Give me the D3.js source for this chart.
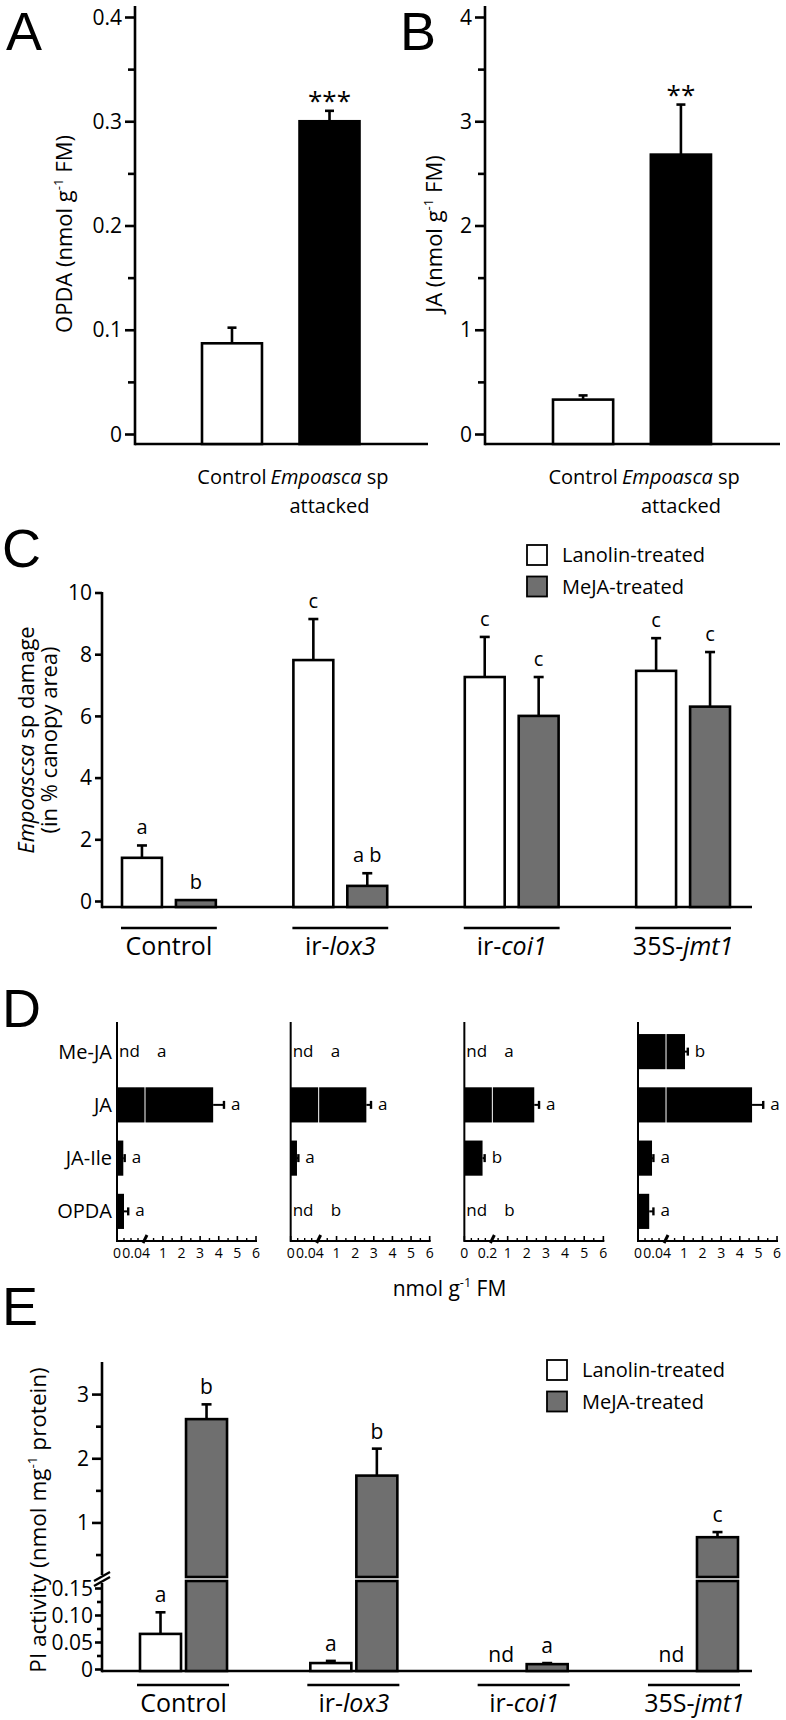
<!DOCTYPE html>
<html><head><meta charset="utf-8">
<script src="https://cdn.jsdelivr.net/npm/d3@7"></script>
<style>
body{margin:0;background:#fff;}
svg text{font-family:"Open Sans","Noto Sans",sans-serif;fill:#000;}
svg text.plabel{font-family:"Liberation Sans",Arial,sans-serif;}
</style></head><body>
<svg id="fig" width="786" height="1720"></svg>
<script>
// ---------------- DATA ----------------
const abCategories = ["Control", "Empoasca sp attacked"];
const opdaMeans = [0.087, 0.300];
const opdaErrors = [0.015, 0.010];
const opdaStars = ["", "***"];
const opdaTicks = [0, 0.1, 0.2, 0.3, 0.4];
const jaMeans = [0.33, 2.68];
const jaErrors = [0.04, 0.48];
const jaStars = ["", "**"];
const jaTicks = [0, 1, 2, 3, 4];

const genotypes = ["Control", "ir-lox3", "ir-coi1", "35S-jmt1"];
const treatments = ["Lanolin-treated", "MeJA-treated"];
const damageLanolin = [1.40, 7.81, 7.26, 7.46];
const damageLanolinErr = [0.40, 1.33, 1.30, 1.06];
const damageMeja = [0.03, 0.49, 6.00, 6.30];
const damageMejaErr = [0.00, 0.41, 1.26, 1.77];
const damageLettersLanolin = ["a", "c", "c", "c"];
const damageLettersMeja = ["b", "a b", "c", "c"];
const damageTicks = [0, 2, 4, 6, 8, 10];

const compounds = ["Me-JA", "JA", "JA-Ile", "OPDA"];
const hormoneBreaks = [0.04, 0.04, 0.2, 0.04];
const hormoneTicks = [1, 2, 3, 4, 5, 6];
const hormoneControl = [null, 3.70, 0.009, 0.010];
const hormoneControlErr = [0, 0.58, 0.002, 0.006];
const hormoneControlLetters = ["a", "a", "a", "a"];
const hormoneLox3 = [null, 2.60, 0.009, null];
const hormoneLox3Err = [0, 0.25, 0.002, 0];
const hormoneLox3Letters = ["a", "a", "a", "b"];
const hormoneCoi1 = [null, 2.39, 0.13, null];
const hormoneCoi1Err = [0, 0.25, 0.015, 0];
const hormoneCoi1Letters = ["a", "a", "b", "b"];
const hormoneJmt1 = [1.06, 4.66, 0.020, 0.016];
const hormoneJmt1Err = [0.15, 0.60, 0.002, 0.006];
const hormoneJmt1Letters = ["b", "a", "a", "a"];

const piLanolin = [0.065, 0.011, null, null];
const piLanolinErr = [0.040, 0.004, 0, 0];
const piMeja = [2.61, 1.73, 0.009, 0.77];
const piMejaErr = [0.23, 0.42, 0.002, 0.08];
const piLettersLanolin = ["a", "a", "nd", "nd"];
const piLettersMeja = ["b", "b", "a", "c"];
const piUpperTicks = [1, 2, 3];
const piLowerTicks = [0, 0.05, 0.10, 0.15];

// ---------------- HELPERS ----------------
const svg = d3.select("#fig");
const GRAY = "#6f6f6f";
const SW = 2.6;

function rich(parent, x, y, segs, size, anchor) {
  const t = parent.append("text").attr("x", x).attr("y", y)
    .attr("font-size", size).attr("text-anchor", anchor || "start");
  let up = false;
  segs.forEach(s => {
    const sp = t.append("tspan").text(s.t);
    if (s.i) sp.attr("font-style", "italic");
    if (s.sup) { sp.attr("font-size", size * 0.6).attr("dy", -size * 0.42); up = true; }
    else if (up) { sp.attr("dy", size * 0.42); up = false; }
  });
  return t;
}
function genoSegs(name) {
  const i = name.indexOf("-");
  if (i < 0) return [{t: name}];
  return [{t: name.slice(0, i + 1)}, {t: name.slice(i + 1), i: true}];
}
function line(parent, x1, y1, x2, y2, w) {
  return parent.append("line").attr("x1", x1).attr("y1", y1).attr("x2", x2).attr("y2", y2)
    .attr("stroke", "#000").attr("stroke-width", w || SW);
}
function styleAxis(g, size) {
  g.attr("font-family", null).attr("font-size", null);
  g.select(".domain").remove();
  g.selectAll(".tick line").attr("stroke", "#000").attr("stroke-width", SW);
  g.selectAll(".tick text").attr("font-size", size).attr("fill", "#000");
}
function errBar(parent, x, y0, y1, cap) {
  line(parent, x, y0, x, y1);
  line(parent, x - cap, y1, x + cap, y1);
}
function vTitle(parent, x, y, segs, size) {
  const t = rich(parent, 0, 0, segs, size, "middle");
  t.attr("transform", `translate(${x},${y}) rotate(-90)`);
  return t;
}
function panelLetter(x, y, s) {
  svg.append("text").attr("class", "plabel").attr("x", x).attr("y", y).attr("font-size", 54).text(s);
}

// ---------------- PANELS A & B ----------------
function panelAB(cfg) {
  const g = svg.append("g");
  const base = 444;
  const y = d3.scaleLinear().domain([0, cfg.ticks[cfg.ticks.length - 1]]).range([434, 17]);
  const x = d3.scaleBand().domain(abCategories).range(cfg.band).paddingInner(0.385);
  const step = cfg.ticks[1] - cfg.ticks[0];
  const minor = cfg.ticks.slice(0, -1).map(t => t + step / 2);
  const gm = g.append("g").attr("transform", `translate(${cfg.axisX},0)`)
    .call(d3.axisLeft(y).tickValues(minor).tickSize(7).tickFormat(""));
  styleAxis(gm, 21);
  const ga = g.append("g").attr("transform", `translate(${cfg.axisX},0)`)
    .call(d3.axisLeft(y).tickValues(cfg.ticks).tickSize(10).tickPadding(3)
      .tickFormat(d => d === 0 ? "0" : cfg.fmt(d)));
  styleAxis(ga, 21);
  ga.selectAll(".tick text").attr("dy", "0.34em");
  line(g, cfg.axisX, 6, cfg.axisX, base + 1.3);
  line(g, cfg.axisX, base, cfg.axisEnd, base);
  abCategories.forEach((c, i) => {
    const v = cfg.means[i], e = cfg.errs[i];
    const cx = x(c) + x.bandwidth() / 2;
    errBar(g, cx, y(v), y(v + e), 4.5);
    g.append("rect").attr("x", x(c)).attr("y", y(v)).attr("width", x.bandwidth())
      .attr("height", base - y(v)).attr("fill", i === 0 ? "#fff" : "#000")
      .attr("stroke", "#000").attr("stroke-width", SW);
    if (cfg.stars[i]) g.append("text").attr("x", cx).attr("y", y(v + e) - 1)
      .attr("text-anchor", "middle").attr("font-size", 26).text(cfg.stars[i]);
    const words = c.split(" ");
    if (words.length === 1) {
      rich(g, cx, 484, [{t: c}], 20, "middle");
    } else {
      rich(g, cx, 484, [{t: words[0], i: true}, {t: " " + words[1]}], 20, "middle");
      rich(g, cx, 513, [{t: words.slice(2).join(" ")}], 20, "middle");
    }
  });
  vTitle(g, cfg.titleX, 234, cfg.title, 22);
  panelLetter(cfg.letterX, 50, cfg.letter);
}
panelAB({axisX: 135, axisEnd: 428, band: [202, 359.5], means: opdaMeans, errs: opdaErrors,
  stars: opdaStars, ticks: opdaTicks, fmt: d3.format(".1f"), titleX: 72,
  title: [{t: "OPDA (nmol g"}, {t: "-1", sup: true}, {t: " FM)"}], letter: "A", letterX: 6});
panelAB({axisX: 485, axisEnd: 780, band: [553, 711], means: jaMeans, errs: jaErrors,
  stars: jaStars, ticks: jaTicks, fmt: d3.format("d"), titleX: 442,
  title: [{t: "JA (nmol g"}, {t: "-1", sup: true}, {t: " FM)"}], letter: "B", letterX: 400});

// ---------------- LEGEND ----------------
function legend(x, y) {
  const g = svg.append("g");
  treatments.forEach((t, i) => {
    g.append("rect").attr("x", x).attr("y", y + i * 31.5).attr("width", 20).attr("height", 20)
      .attr("fill", i === 0 ? "#fff" : GRAY).attr("stroke", "#000").attr("stroke-width", 1.8);
    g.append("text").attr("x", x + 35).attr("y", y + i * 31.5 + 17).attr("font-size", 20).text(t);
  });
}

// ---------------- PANEL C ----------------
(function () {
  const g = svg.append("g");
  const base = 907, axisX = 102;
  const y = d3.scaleLinear().domain([0, 10]).range([901, 592.5]);
  const gx = d3.scaleBand().domain(genotypes).range([122, 730]).paddingInner(0.4525);
  const tx = d3.scaleBand().domain(treatments).range([0, gx.bandwidth()]).paddingInner(0.26);
  const ga = g.append("g").attr("transform", `translate(${axisX},0)`)
    .call(d3.axisLeft(y).tickValues(damageTicks).tickSize(7).tickPadding(3));
  styleAxis(ga, 21);
  ga.selectAll(".tick text").attr("dy", "0.34em");
  line(g, axisX, 592, axisX, base + 1.3);
  line(g, axisX, base, 752, base);
  const sets = [
    {vals: damageLanolin, errs: damageLanolinErr, lets: damageLettersLanolin, fill: "#fff"},
    {vals: damageMeja, errs: damageMejaErr, lets: damageLettersMeja, fill: GRAY}];
  genotypes.forEach((gen, gi) => {
    sets.forEach((s, si) => {
      const v = s.vals[gi], e = s.errs[gi];
      const bx = gx(gen) + tx(treatments[si]);
      const cx = bx + tx.bandwidth() / 2;
      if (e > 0) errBar(g, cx, y(v), y(v + e), 5);
      g.append("rect").attr("x", bx).attr("y", y(v)).attr("width", tx.bandwidth())
        .attr("height", base - y(v)).attr("fill", s.fill).attr("stroke", "#000").attr("stroke-width", SW);
      g.append("text").attr("x", cx).attr("y", y(v + e) - 11).attr("text-anchor", "middle")
        .attr("font-size", 20).text(s.lets[gi]);
    });
    line(g, gx(gen) - 1, 928, gx(gen) + gx.bandwidth() + 1, 928);
    rich(g, gx(gen) + gx.bandwidth() / 2, 955, genoSegs(gen), 25, "middle");
  });
  vTitle(g, 34, 740, [{t: "Empoascsa", i: true}, {t: " sp damage"}], 22);
  vTitle(g, 57, 740, [{t: "(in % canopy area)"}], 22);
  panelLetter(2, 567, "C");
  legend(527, 545);
})();

// ---------------- PANEL D ----------------
(function () {
  const g = svg.append("g");
  const axisY = 1241, top = 1022;
  const sub = d3.scaleBand().domain(genotypes).range([117, 778]).paddingInner(0.194);
  const rows = d3.scaleBand().domain(compounds).range([1025, 1238]).paddingInner(0.34).paddingOuter(0.17);
  const sets = [
    {vals: hormoneControl, errs: hormoneControlErr, lets: hormoneControlLetters},
    {vals: hormoneLox3, errs: hormoneLox3Err, lets: hormoneLox3Letters},
    {vals: hormoneCoi1, errs: hormoneCoi1Err, lets: hormoneCoi1Letters},
    {vals: hormoneJmt1, errs: hormoneJmt1Err, lets: hormoneJmt1Letters}];
  genotypes.forEach((gen, gi) => {
    const x0 = sub(gen), brk = hormoneBreaks[gi], s = sets[gi];
    const sx = d3.scaleLinear().domain([0, brk, 6]).range([x0, x0 + 28, x0 + 139]);
    compounds.forEach((c, ci) => {
      const v = s.vals[ci], e = s.errs[ci];
      const yc = rows(c) + rows.bandwidth() / 2;
      if (v === null) {
        g.append("text").attr("x", x0 + 2).attr("y", yc + 5).attr("font-size", 17).text("nd");
        g.append("text").attr("x", x0 + 40).attr("y", yc + 5).attr("font-size", 17).text(s.lets[ci]);
        return;
      }
      if (e > 0) {
        line(g, sx(v), yc, sx(v + e), yc, 2);
        line(g, sx(v + e), yc - 4, sx(v + e), yc + 4, 2.4);
      }
      if (v <= brk) {
        g.append("rect").attr("x", x0).attr("y", rows(c)).attr("width", sx(v) - x0)
          .attr("height", rows.bandwidth()).attr("fill", "#000");
      } else {
        g.append("rect").attr("x", x0).attr("y", rows(c)).attr("width", sx(brk) - x0 - 0.5)
          .attr("height", rows.bandwidth()).attr("fill", "#000");
        g.append("rect").attr("x", sx(brk) + 0.5).attr("y", rows(c)).attr("width", sx(v) - sx(brk) - 0.5)
          .attr("height", rows.bandwidth()).attr("fill", "#000");
      }
      g.append("text").attr("x", sx(v + e) + 7).attr("y", yc + 5).attr("font-size", 17).text(s.lets[ci]);
    });
    // axes
    line(g, x0, top, x0, axisY + 1, 2);
    line(g, x0, axisY, x0 + 140, axisY, 2);
    const majors = [0].concat(hormoneTicks);
    const minors = d3.range(1, 4).map(i => brk * i / 4).concat(d3.range(0.5, 6, 1));
    majors.forEach(t => line(g, sx(t), axisY, sx(t), axisY - 5, 1.6));
    minors.forEach(t => line(g, sx(t), axisY, sx(t), axisY - 3, 1.4));
    line(g, sx(brk) - 2, axisY + 2, sx(brk) + 2, axisY - 6, 3);
    const ty = 1258;
    g.append("text").attr("x", sx(0)).attr("y", ty).attr("font-size", 14).attr("text-anchor", "middle").text("0");
    g.append("text").attr("x", sx(brk) + 5).attr("y", ty).attr("font-size", 14).attr("text-anchor", "end").text(String(brk));
    g.append("text").attr("x", Math.max(sx(1) - 4, sx(brk) + 6)).attr("y", ty).attr("font-size", 14).text("1");
    hormoneTicks.slice(1).forEach(t => g.append("text").attr("x", sx(t)).attr("y", ty)
      .attr("font-size", 14).attr("text-anchor", "middle").text(String(t)));
    if (gi === 0) {
      compounds.forEach(c => g.append("text").attr("x", x0 - 5).attr("y", rows(c) + rows.bandwidth() / 2 + 7)
        .attr("font-size", 20).attr("text-anchor", "end").text(c));
    }
  });
  rich(g, (117 + 778) / 2 + 2, 1296, [{t: "nmol g"}, {t: "-1", sup: true}, {t: " FM"}], 21, "middle");
  panelLetter(2, 1027, "D");
})();

// ---------------- PANEL E ----------------
(function () {
  const g = svg.append("g");
  const base = 1671, axisX = 102;
  const yLow = d3.scaleLinear().domain([0, 0.15]).range([1669, 1588]);
  const yUp = d3.scaleLinear().domain([0.15, 3.5]).range([1577, 1362]);
  const yy = v => v <= 0.15 ? yLow(v) : yUp(v);
  const lowTop = yLow(0.15) - 7;
  const gx = d3.scaleBand().domain(genotypes).range([140, 738]).paddingInner(0.489);
  const tx = d3.scaleBand().domain(treatments).range([0, gx.bandwidth()]).paddingInner(0.109);
  // axes
  const gum = g.append("g").attr("transform", `translate(${axisX},0)`)
    .call(d3.axisLeft(yUp).tickValues([0.5, 1.5, 2.5]).tickSize(6).tickFormat(""));
  styleAxis(gum, 21);
  const gu = g.append("g").attr("transform", `translate(${axisX},0)`)
    .call(d3.axisLeft(yUp).tickValues(piUpperTicks).tickSize(10).tickPadding(3).tickFormat(d3.format("d")));
  styleAxis(gu, 21);
  gu.selectAll(".tick text").attr("dy", "0.34em");
  const glm = g.append("g").attr("transform", `translate(${axisX},0)`)
    .call(d3.axisLeft(yLow).tickValues([0.025, 0.075, 0.125]).tickSize(5).tickFormat(""));
  styleAxis(glm, 21);
  const gl = g.append("g").attr("transform", `translate(${axisX},0)`)
    .call(d3.axisLeft(yLow).tickValues(piLowerTicks).tickSize(7).tickPadding(2)
      .tickFormat(d => d === 0 ? "0" : d3.format(".2f")(d)));
  styleAxis(gl, 21);
  gl.selectAll(".tick text").attr("dy", "0.34em");
  line(g, axisX, 1362, axisX, yUp(0.15) - 2);
  line(g, axisX, lowTop + 2, axisX, base + 1.3);
  line(g, axisX - 8, lowTop - 0, axisX + 8, lowTop - 9, 2.4);
  line(g, axisX - 8, lowTop + 5, axisX + 8, lowTop - 4, 2.4);
  line(g, axisX, base, 752, base);
  const sets = [
    {vals: piLanolin, errs: piLanolinErr, lets: piLettersLanolin, fill: "#fff"},
    {vals: piMeja, errs: piMejaErr, lets: piLettersMeja, fill: GRAY}];
  genotypes.forEach((gen, gi) => {
    sets.forEach((s, si) => {
      const v = s.vals[gi], e = s.errs[gi];
      const bx = gx(gen) + tx(treatments[si]);
      const bw = tx.bandwidth();
      const cx = bx + bw / 2;
      if (v === null) {
        g.append("text").attr("x", cx).attr("y", yLow(0) - 7).attr("text-anchor", "middle")
          .attr("font-size", 21).text(s.lets[gi]);
        return;
      }
      if (e > 0) errBar(g, cx, yy(v), yy(v + e), 5);
      if (v <= 0.15) {
        g.append("rect").attr("x", bx).attr("y", yLow(v)).attr("width", bw).attr("height", base - yLow(v))
          .attr("fill", s.fill).attr("stroke", "#000").attr("stroke-width", SW);
      } else {
        g.append("rect").attr("x", bx).attr("y", lowTop).attr("width", bw).attr("height", base - lowTop)
          .attr("fill", s.fill).attr("stroke", "#000").attr("stroke-width", SW);
        g.append("rect").attr("x", bx).attr("y", yUp(v)).attr("width", bw).attr("height", yUp(0.15) - yUp(v))
          .attr("fill", s.fill).attr("stroke", "#000").attr("stroke-width", SW);
      }
      g.append("text").attr("x", cx).attr("y", yy(v + e) - 10).attr("text-anchor", "middle")
        .attr("font-size", 21).text(s.lets[gi]);
    });
    line(g, gx(gen) - 3, 1685, gx(gen) + gx.bandwidth() + 2, 1685);
    rich(g, gx(gen) + gx.bandwidth() / 2, 1712, genoSegs(gen), 25, "middle");
  });
  vTitle(g, 46, 1520, [{t: "PI activity (nmol mg"}, {t: "-1", sup: true}, {t: " protein)"}], 22.5);
  panelLetter(2, 1325, "E");
  legend(547, 1360);
})();
</script></body></html>
